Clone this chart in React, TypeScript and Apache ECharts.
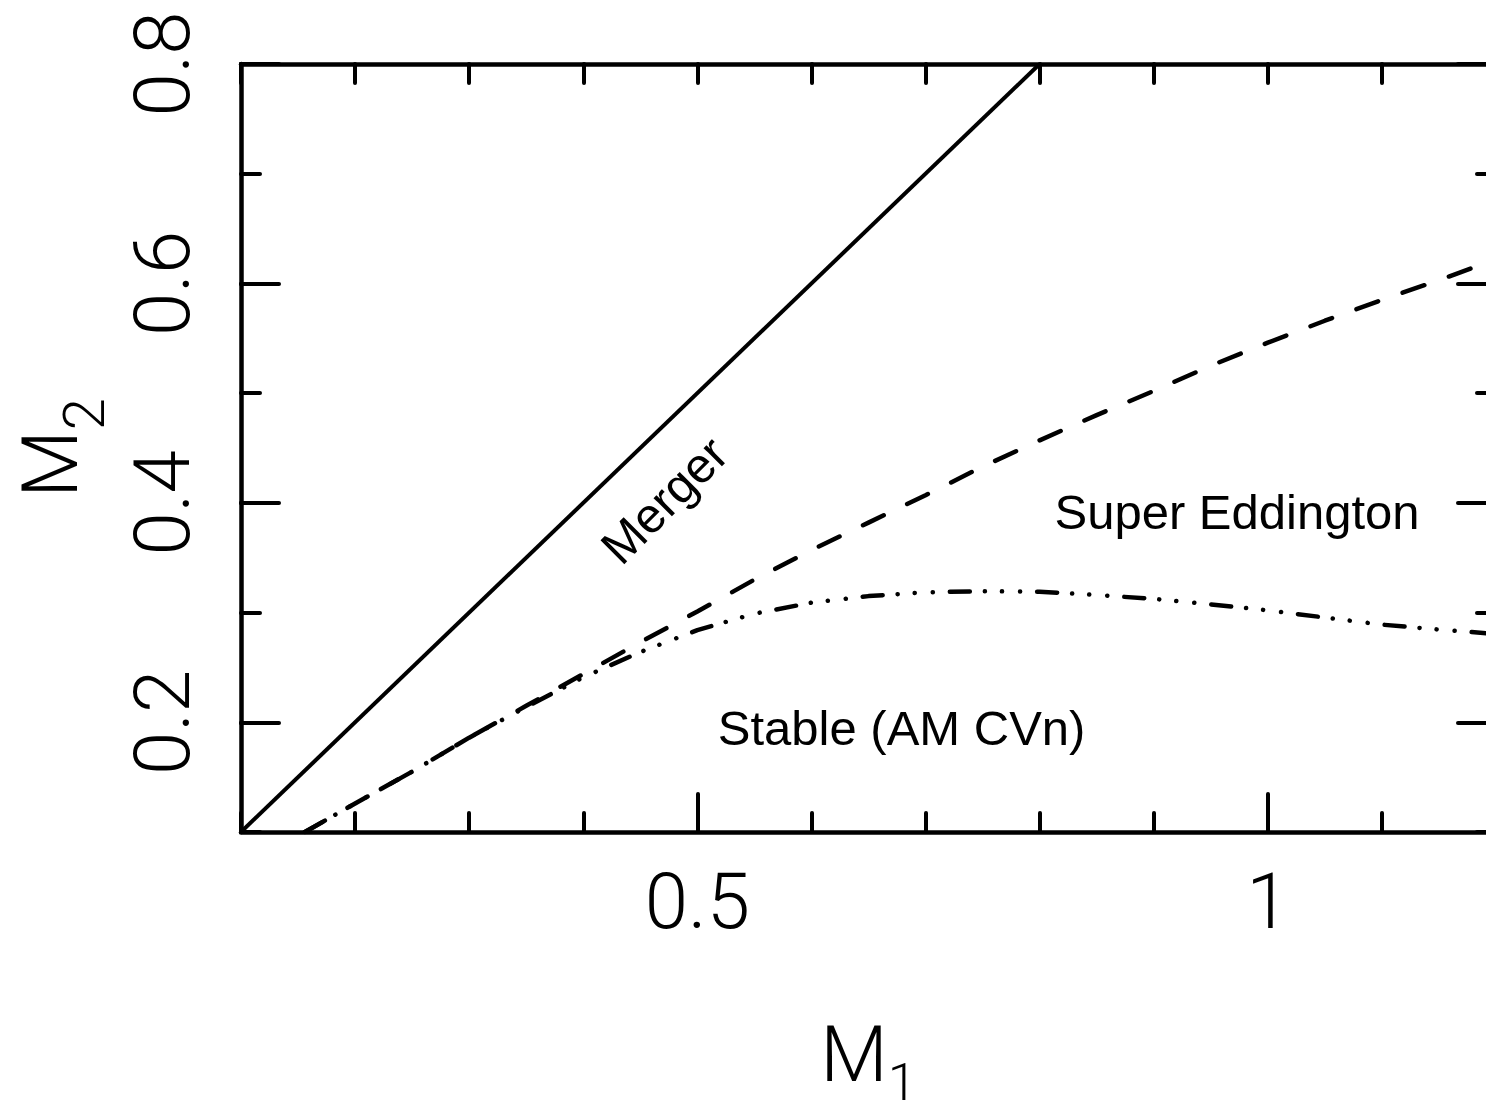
import React, { useEffect, useRef } from "react";
import * as echarts from "echarts";

// Axis ranges and tick labels
const X_MIN = 0.1;
const X_MAX = 1.2;
const Y_MIN = 0.1;
const Y_MAX = 0.8;
const TICK_STEP = 0.1;
const xLabelValues = [0.5, 1];
const yLabelValues = [0.2, 0.4, 0.6, 0.8];

// Merger line (M2 = M1)
const mergerM1 = [0.1, 0.8];
const mergerM2 = [0.1, 0.8];

// Super-Eddington boundary (dashed)
const eddM1 = [0.156, 0.2, 0.25, 0.3, 0.35, 0.4, 0.45, 0.5, 0.55, 0.6, 0.65, 0.7, 0.75, 0.8, 0.85, 0.9, 0.95, 1.0, 1.05, 1.1, 1.15, 1.2];
const eddM2 = [0.1, 0.126, 0.155, 0.186, 0.215, 0.244, 0.273, 0.301, 0.33, 0.357, 0.382, 0.407, 0.433, 0.457, 0.48, 0.502, 0.525, 0.546, 0.566, 0.585, 0.603, 0.622];

// Stability boundary (dash-dot-dot-dot)
const stabM1 = [0.156, 0.2, 0.25, 0.3, 0.35, 0.4, 0.45, 0.5, 0.55, 0.6, 0.65, 0.7, 0.75, 0.8, 0.85, 0.9, 0.95, 1.0, 1.05, 1.1, 1.15, 1.2];
const stabM2 = [0.1, 0.126, 0.155, 0.186, 0.214, 0.241, 0.264, 0.284, 0.299, 0.309, 0.315, 0.3185, 0.3195, 0.319, 0.316, 0.3125, 0.3075, 0.302, 0.2955, 0.289, 0.2845, 0.2805];

// Region annotations
const noteTexts = ["Merger", "Super Eddington", "Stable (AM CVn)"];
const noteM1 = [0.471, 0.973, 0.679];
const noteM2 = [0.4026, 0.392, 0.195];
const noteRotate = [45, 0, 0];

const NOTE_FONT = "'Liberation Sans', Arial, Helvetica, sans-serif";
const AXIS_FONT = "Roboto, 'Liberation Sans', Arial, sans-serif";

const zip = (a: number[], b: number[]) => a.map((v, i) => [v, b[i]]);

export default function App() {
  const ref = useRef<HTMLDivElement>(null);

  useEffect(() => {
    if (!ref.current) return;
    const chart = echarts.init(ref.current, undefined, { renderer: "svg" });

    const tickStyle = { color: "#000", width: 4, cap: "round" };
    const axisLineStyle = { color: "#000", width: 4.5 };

    const baseAxis = {
      type: "value",
      min: X_MIN,
      max: X_MAX,
      splitLine: { show: false },
    };

    const mainToken = { fontSize: 78, verticalAlign: "top", fontFamily: AXIS_FONT, fontWeight: 300, color: "#000" };
    const xNameRich = {
      m: mainToken,
      s: { fontSize: 52, lineHeight: 134, fontFamily: AXIS_FONT, fontWeight: 300, color: "#000" },
    };
    const yNameRich = {
      m: mainToken,
      s: { fontSize: 58, lineHeight: 146, fontFamily: AXIS_FONT, fontWeight: 300, color: "#000" },
    };

    const tickLabel = {
      fontSize: 78,
      fontFamily: AXIS_FONT,
      fontWeight: 300,
      color: "#000",
      formatter: (v: number) => String(v),
    };

    chart.setOption({
      animation: false,
      backgroundColor: "#fff",
      grid: { left: 241, top: 64, right: -10, bottom: 283, containLabel: false, outerBoundsMode: "none" },
      xAxis: [
        {
          ...baseAxis,
          position: "bottom",
          interval: TICK_STEP,
          axisLine: { show: true, onZero: false, lineStyle: axisLineStyle },
          axisTick: { show: true, inside: true, length: 19, lineStyle: tickStyle },
          axisLabel: { show: false },
          name: "{m|M}{s|1}",
          nameLocation: "middle",
          nameGap: 183,
          nameTextStyle: { rich: xNameRich },
        },
        {
          ...baseAxis,
          position: "bottom",
          axisLine: { show: false, onZero: false },
          axisTick: { show: true, inside: true, length: 38, customValues: xLabelValues, lineStyle: tickStyle },
          axisLabel: { show: true, customValues: xLabelValues, margin: 30, ...tickLabel },
        },
        {
          ...baseAxis,
          position: "top",
          interval: TICK_STEP,
          axisLine: { show: true, onZero: false, lineStyle: axisLineStyle },
          axisTick: { show: true, inside: true, length: 19, lineStyle: tickStyle },
          axisLabel: { show: false },
        },
      ],
      yAxis: [
        {
          type: "value",
          min: Y_MIN,
          max: Y_MAX,
          position: "left",
          interval: TICK_STEP,
          splitLine: { show: false },
          axisLine: { show: true, onZero: false, lineStyle: axisLineStyle },
          axisTick: { show: true, inside: true, length: 19, lineStyle: tickStyle },
          axisLabel: { show: false },
          name: "{m|M}{s|2}",
          nameLocation: "middle",
          nameRotate: 90,
          nameGap: 84,
          nameTextStyle: { rich: yNameRich },
        },
        {
          type: "value",
          min: Y_MIN,
          max: Y_MAX,
          position: "left",
          splitLine: { show: false },
          axisLine: { show: false, onZero: false },
          axisTick: { show: true, inside: true, length: 38, customValues: yLabelValues, lineStyle: tickStyle },
          axisLabel: { show: true, customValues: yLabelValues, rotate: 90, margin: 40, ...tickLabel },
        },
        {
          type: "value",
          min: Y_MIN,
          max: Y_MAX,
          position: "right",
          interval: TICK_STEP,
          splitLine: { show: false },
          axisLine: { show: true, onZero: false, lineStyle: axisLineStyle },
          axisTick: { show: true, inside: true, length: 19, lineStyle: tickStyle },
          axisLabel: { show: false },
        },
        {
          type: "value",
          min: Y_MIN,
          max: Y_MAX,
          position: "right",
          splitLine: { show: false },
          axisLine: { show: false, onZero: false },
          axisTick: { show: true, inside: true, length: 38, customValues: yLabelValues, lineStyle: tickStyle },
          axisLabel: { show: false },
        },
      ],
      series: [
        {
          type: "line",
          name: "Merger",
          xAxisIndex: 0,
          yAxisIndex: 0,
          data: zip(mergerM1, mergerM2),
          symbol: "none",
          lineStyle: { color: "#000", width: 4, type: "solid" },
        },
        {
          type: "line",
          name: "Super Eddington",
          xAxisIndex: 0,
          yAxisIndex: 0,
          data: zip(eddM1, eddM2),
          symbol: "none",
          lineStyle: { color: "#000", width: 4.5, type: [23, 26], cap: "round" },
        },
        {
          type: "line",
          name: "Stable",
          xAxisIndex: 0,
          yAxisIndex: 0,
          data: zip(stabM1, stabM2),
          symbol: "none",
          lineStyle: { color: "#000", width: 4.5, type: [20, 15, 0.1, 17, 0.1, 18, 0.1, 17], cap: "round" },
        },
        {
          type: "scatter",
          name: "notes",
          xAxisIndex: 0,
          yAxisIndex: 0,
          symbolSize: 1,
          itemStyle: { color: "transparent", opacity: 1 },
          silent: true,
          data: noteTexts.map((t, i) => ({
            value: [noteM1[i], noteM2[i]],
            label: {
              show: true,
              position: "inside",
              formatter: t,
              rotate: noteRotate[i],
              fontSize: 49,
              fontFamily: NOTE_FONT,
              color: "#000",
              opacity: 1,
              textBorderWidth: 0,
              align: "center",
              verticalAlign: "middle",
            },
          })),
        },
      ],
    });

    return () => chart.dispose();
  }, []);

  return (
    <div
      ref={ref}
      style={{ position: "fixed", left: 0, top: 0, width: 1486, height: 1115, background: "#fff" }}
    />
  );
}
